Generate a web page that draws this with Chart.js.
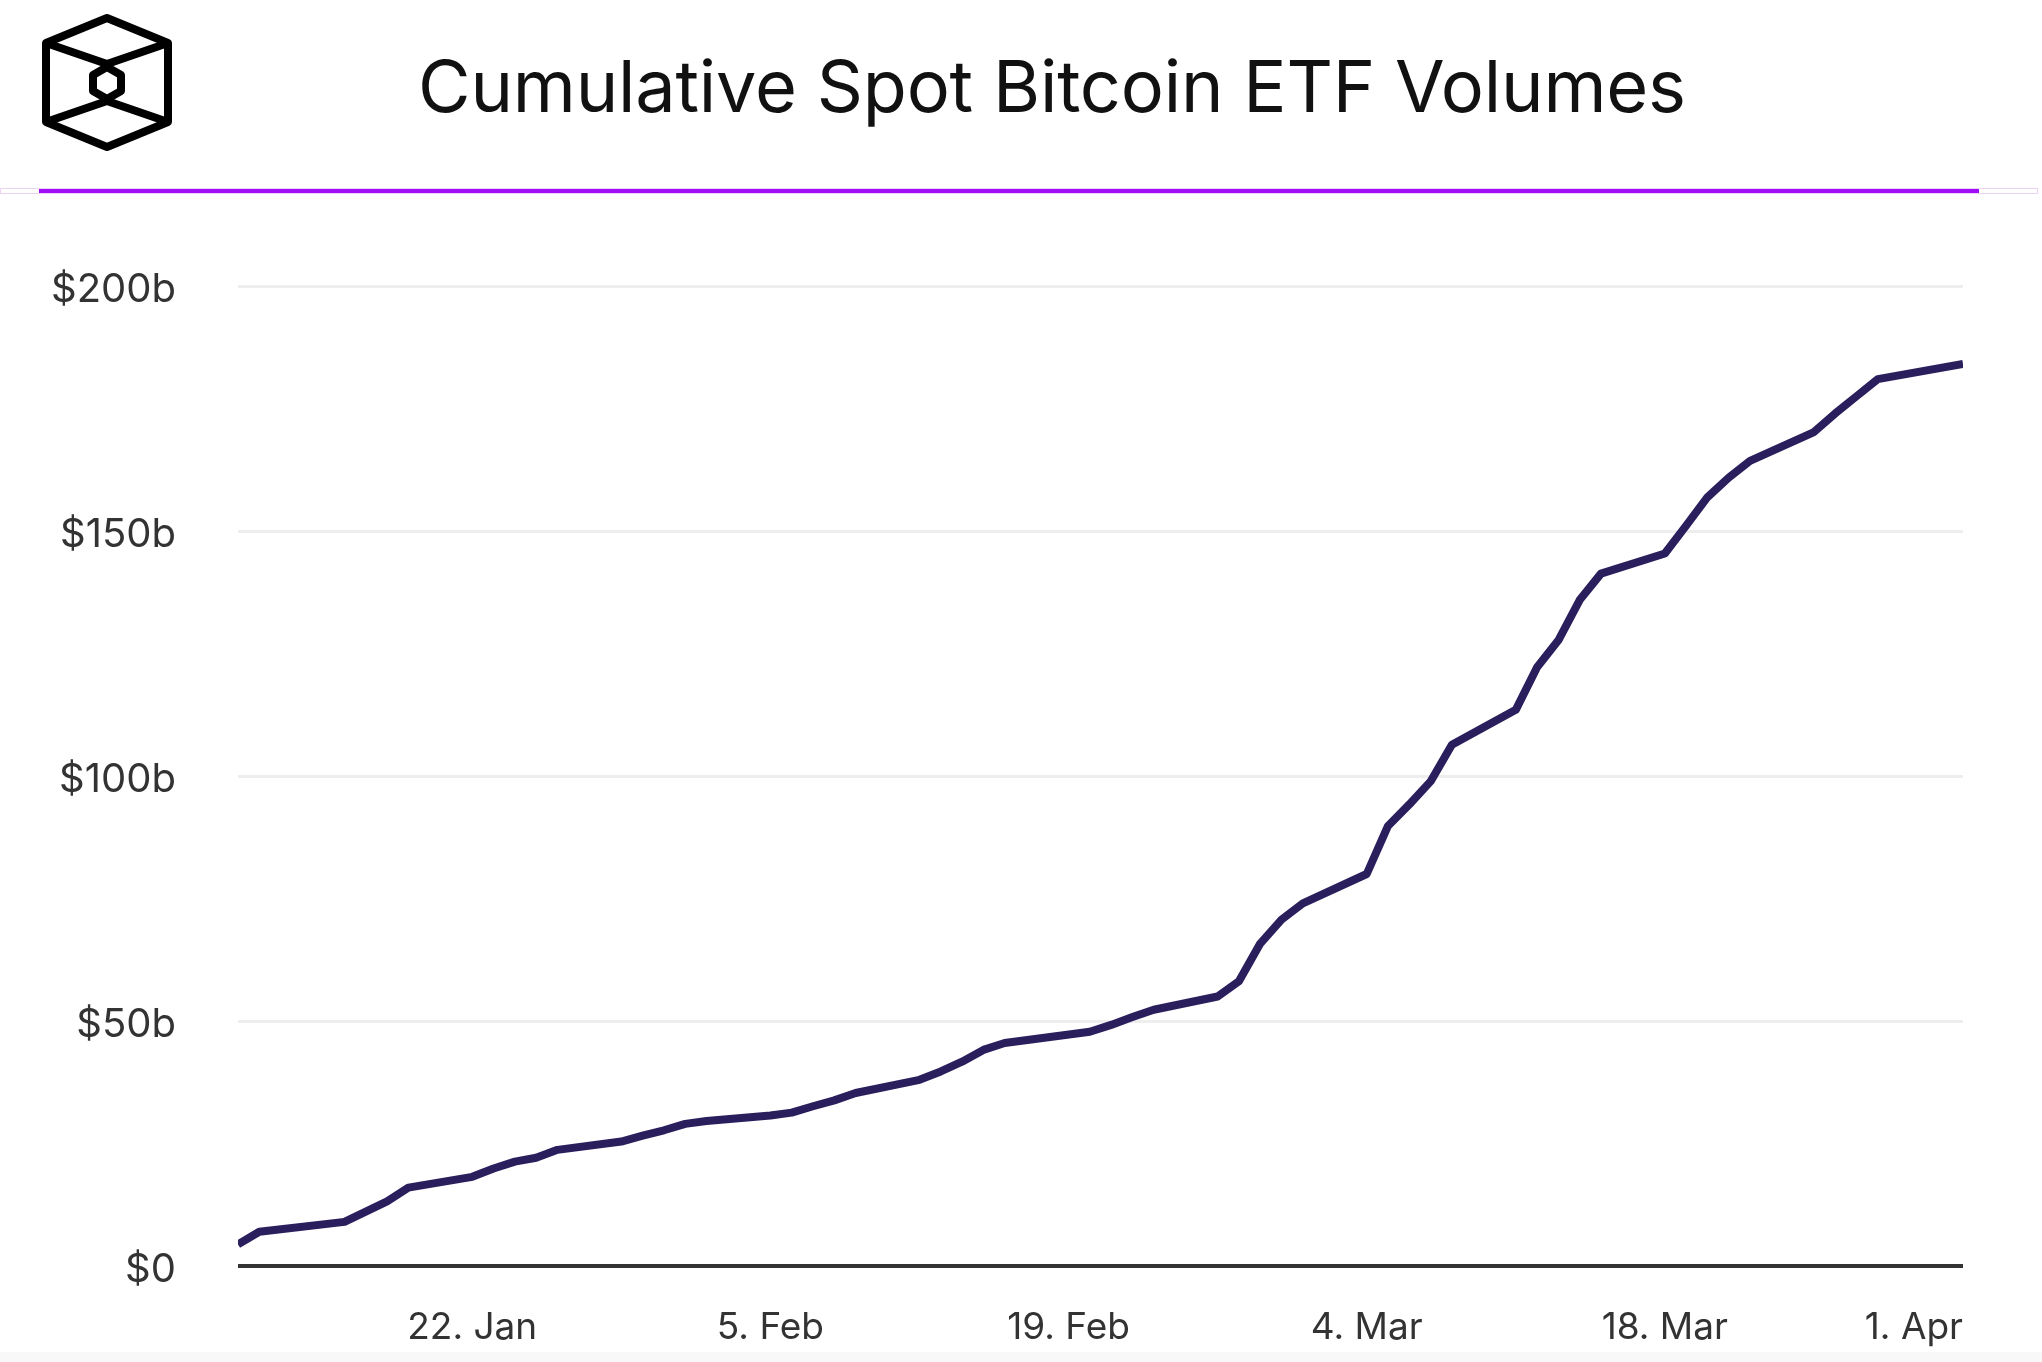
<!DOCTYPE html>
<html>
<head>
<meta charset="utf-8">
<title>Cumulative Spot Bitcoin ETF Volumes</title>
<script src="https://cdn.jsdelivr.net/npm/chart.js@4.4.1/dist/chart.umd.min.js"></script>
<style>
  html, body { margin: 0; padding: 0; background: #fff; }
  body { width: 2042px; height: 1362px; position: relative; overflow: hidden; font-family: Inter, "Noto Sans", sans-serif; }
  #logo { position: absolute; left: 0; top: 0; }
  #title { position: absolute; left: 418px; top: 42px; font-size: 72px; font-weight: 400; color: #111; white-space: nowrap; letter-spacing: -0.2px; }
  #track { position: absolute; left: 0; top: 188px; width: 2036px; height: 4px; border: 1px solid #ecd2f3; }
  #bar { position: absolute; left: 39px; top: 189px; width: 1940px; height: 4px; background: #a00ef5; }
  #foot { position: absolute; left: 0; top: 1352px; width: 2042px; height: 10px; background: #f8f8f8; }
  #wrap { position: absolute; left: 0; top: 200px; width: 2042px; height: 1152px; }
</style>
</head>
<body>
<svg id="logo" width="220" height="170" viewBox="0 0 220 170">
  <g fill="none" stroke="#000" stroke-width="8" stroke-linejoin="round">
    <polygon points="107,18 168,43 168,122 107,147 46,122 46,43" />
    <polyline points="46,43 107,64 168,43" />
    <polyline points="46,122 107,101 168,122" />
    <polygon points="107,67 121,75 121,91 107,99 93,91 93,75" />
  </g>
</svg>
<div id="title">Cumulative Spot Bitcoin ETF Volumes</div>
<div id="track"></div>
<div id="bar"></div>
<div id="foot"></div>
<div id="wrap"><canvas id="chart"></canvas></div>
<script>
  // trading days, counted as days since 11 Jan 2024
  const days = [0, 1, 5, 6, 7, 8, 11, 12, 13, 14, 15, 18, 19, 20, 21, 22,
    25, 26, 27, 28, 29, 32, 33, 34, 35, 36, 40, 41, 42, 43,
    46, 47, 48, 49, 50, 53, 54, 55, 56, 57, 60, 61, 62, 63, 64,
    67, 68, 69, 70, 71, 74, 75, 76, 77, 81];

  // cumulative volume, $ billions
  const volumes = [4.4, 7.0, 9.0, 11.1, 13.2, 16.0, 18.2, 19.9, 21.3, 22.1, 23.7, 25.4, 26.6, 27.7, 29.0, 29.6,
    30.7, 31.3, 32.6, 33.8, 35.3, 38.0, 39.7, 41.7, 44.1, 45.5, 47.8, 49.2, 50.8, 52.3,
    55.0, 58.1, 65.8, 70.7, 74.0, 80.0, 89.8, 94.2, 98.9, 106.4, 113.5, 122.2, 127.7, 135.9, 141.3,
    145.4, 151.1, 156.9, 160.9, 164.3, 170.2, 174.0, 177.5, 181.0, 184.1];

  const tickDays = [0, 11, 25, 39, 53, 67, 81];
  const tickLabels = ["", "22. Jan", "5. Feb", "19. Feb", "4. Mar", "18. Mar", "1. Apr"];
  const yTicks = [0, 50, 100, 150, 200];
  const yLabels = ["$0", "$50b", "$100b", "$150b", "$200b"];

  const points = days.map((d, i) => ({ x: d, y: volumes[i] }));

  new Chart(document.getElementById("chart"), {
    type: "line",
    data: {
      datasets: [{
        data: points,
        borderColor: "#2a1f5c",
        borderWidth: 8,
        pointRadius: 0,
        tension: 0,
        borderJoinStyle: "round",
        fill: false,
      }],
    },
    options: {
      responsive: true,
      maintainAspectRatio: false,
      animation: false,
      layout: { padding: { top: 81, right: 79, left: 0, bottom: 0 } },
      plugins: { legend: { display: false }, tooltip: { enabled: false } },
      scales: {
        x: {
          type: "linear",
          min: 0,
          max: 81,
          afterFit: (s) => { s.height = 84; },
          afterBuildTicks: (s) => { s.ticks = tickDays.map((v) => ({ value: v })); },
          grid: { display: false },
          border: { display: false },
          ticks: {
            align: "inner",
            maxRotation: 0,
            autoSkip: false,
            padding: 32,
            color: "#333",
            font: { family: "Inter", size: 37 },
            callback: (v) => tickLabels[tickDays.indexOf(v)],
          },
        },
        y: {
          min: 0,
          max: 200,
          afterFit: (s) => { s.width = 238; },
          afterBuildTicks: (s) => { s.ticks = yTicks.map((v) => ({ value: v })); },
          border: { display: false },
          grid: {
            drawTicks: false,
            color: (c) => (c.tick && c.tick.value === 0 ? "#333" : "#eeeeee"),
            lineWidth: (c) => (c.tick && c.tick.value === 0 ? 4 : 3),
          },
          ticks: {
            padding: 62,
            labelOffset: 4,
            color: "#333",
            font: { family: "Inter", size: 40 },
            callback: (v) => yLabels[yTicks.indexOf(v)],
          },
        },
      },
    },
  });
</script>
</body>
</html>
